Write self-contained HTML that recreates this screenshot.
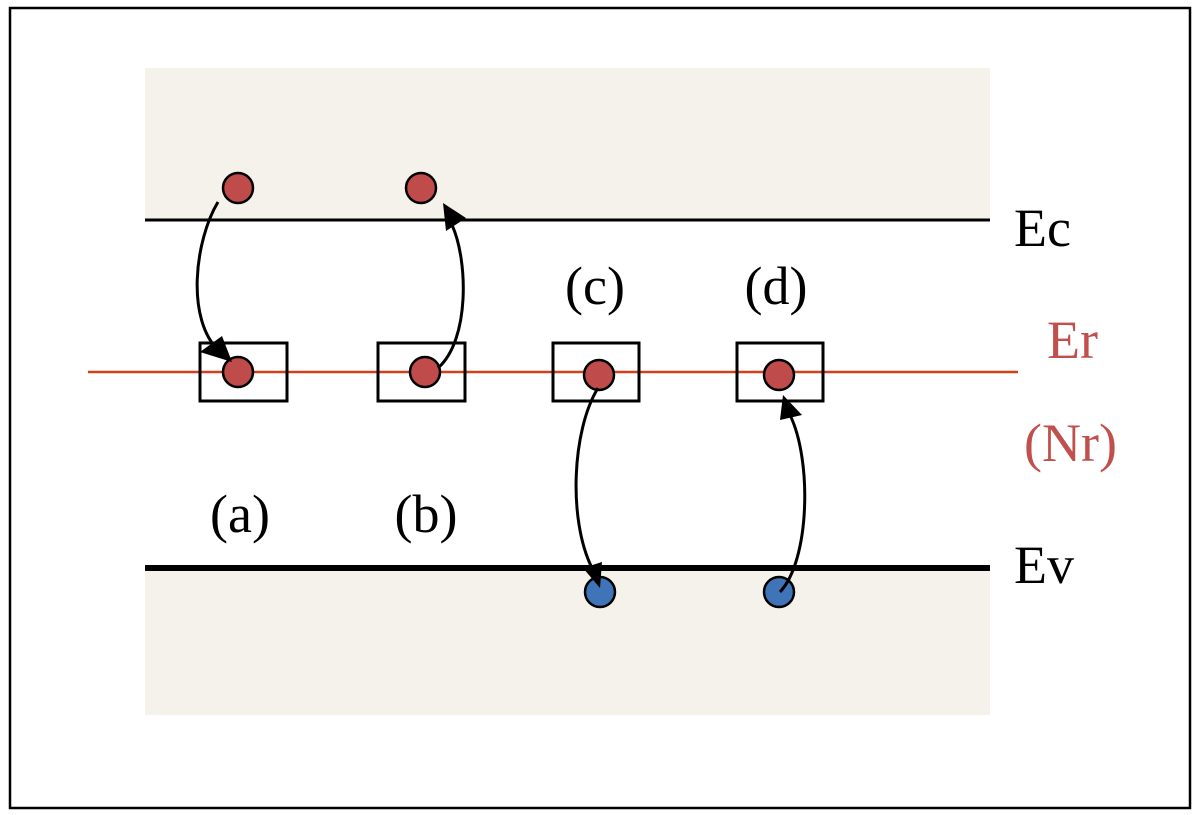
<!DOCTYPE html>
<html><head><style>
html,body{margin:0;padding:0;background:#fff;}
svg{display:block;}
text{font-family:"Liberation Serif",serif;}
</style></head><body>
<svg width="1200" height="815" viewBox="0 0 1200 815" xmlns="http://www.w3.org/2000/svg">
<rect x="10" y="8" width="1180" height="800" fill="#fff" stroke="#000" stroke-width="2.5"/>
<rect x="145" y="68" width="845" height="152" fill="#f4f2eb"/>
<rect x="145" y="568" width="845" height="147" fill="#f4f2eb"/>
<line x1="145" y1="220" x2="990" y2="220" stroke="#000" stroke-width="3"/>
<line x1="145" y1="568" x2="990" y2="568" stroke="#000" stroke-width="6"/>
<line x1="88" y1="372" x2="1018" y2="372" stroke="#d2401a" stroke-width="2.5"/>
<g fill="none" stroke="#000" stroke-width="3">
<rect x="200" y="343" width="87" height="58"/>
<rect x="378" y="343" width="87" height="58"/>
<rect x="553" y="343" width="86" height="58"/>
<rect x="737" y="343" width="86" height="58"/>
</g>
<g fill="#bf4b4b" stroke="#000" stroke-width="2.5">
<circle cx="238" cy="188" r="15"/>
<circle cx="421" cy="188" r="15"/>
<circle cx="238" cy="372" r="15"/>
<circle cx="425" cy="372" r="15"/>
<circle cx="599" cy="375" r="15"/>
<circle cx="779" cy="375" r="15"/>
</g>
<g fill="#3f74b8" stroke="#000" stroke-width="2.5">
<circle cx="600" cy="592" r="15"/>
<circle cx="779" cy="592" r="15"/>
</g>
<g fill="none" stroke="#000" stroke-width="3">
<path d="M218,202 C195,240 185,320 220,352"/>
<path d="M438,368 C470,340 468,260 452,225"/>
<path d="M598,388 C572,430 568,520 592,568"/>
<path d="M780,592 C810,560 812,460 790,415"/>
</g>
<g fill="#000">
<polygon points="232,362 200,352 222,336"/>
<polygon points="443,203 466,218 446,231"/>
<polygon points="600,588 583,568 602,562"/>
<polygon points="783,395 802,415 780,420"/>
</g>
<g font-size="54" fill="#000">
<text x="1014" y="246">Ec</text>
<text x="1014" y="583">Ev</text>
<text x="240" y="532" text-anchor="middle">(a)</text>
<text x="426" y="532" text-anchor="middle">(b)</text>
<text x="595" y="304" text-anchor="middle">(c)</text>
<text x="776" y="304" text-anchor="middle">(d)</text>
</g>
<g font-size="54" fill="#c0504d">
<text x="1047" y="358">Er</text>
<text x="1024" y="461">(Nr)</text>
</g>
</svg>
</body></html>
